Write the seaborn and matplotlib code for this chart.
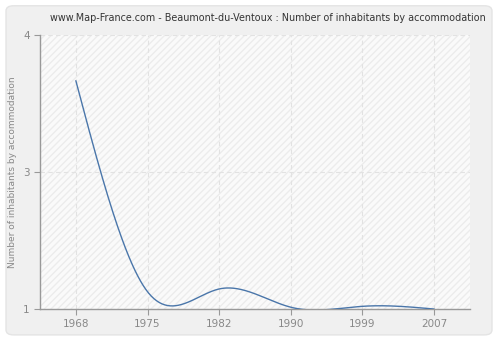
import numpy as np
import pandas as pd
import matplotlib
matplotlib.use("Agg")
import matplotlib.pyplot as plt
import seaborn as sns
from matplotlib.patches import FancyBboxPatch, Rectangle

years = ["1968", "1975", "1982", "1990", "1999", "2007"]
values = [3.5, 1.19, 1.22, 1.02, 1.03, 1.0]
ytick_vals = [1, 2.5, 4]
ytick_labels = ["1", "3", "4"]

sns.set_theme(style="white")
plt.rcParams["font.family"] = ["DejaVu Sans"]

def natural_spline(x, y, xs):
    x = np.asarray(x, float); y = np.asarray(y, float)
    n = len(x)
    h = np.diff(x)
    A = np.zeros((n, n)); b = np.zeros(n)
    A[0, 0] = 1; A[-1, -1] = 1
    for i in range(1, n - 1):
        A[i, i - 1] = h[i - 1]
        A[i, i] = 2 * (h[i - 1] + h[i])
        A[i, i + 1] = h[i]
        b[i] = 3 * ((y[i + 1] - y[i]) / h[i] - (y[i] - y[i - 1]) / h[i - 1])
    c = np.linalg.solve(A, b)
    out = np.empty_like(xs)
    for k, xv in enumerate(xs):
        i = min(max(np.searchsorted(x, xv) - 1, 0), n - 2)
        bb = (y[i + 1] - y[i]) / h[i] - h[i] * (2 * c[i] + c[i + 1]) / 3
        d = (c[i + 1] - c[i]) / (3 * h[i])
        t = xv - x[i]
        out[k] = y[i] + bb * t + c[i] * t ** 2 + d * t ** 3
    return out

idx = np.arange(len(years))
xs = np.linspace(0, len(years) - 1, 400)
ys = natural_spline(idx, values, xs)
df = pd.DataFrame({"x": xs, "y": ys})

fig = plt.figure(figsize=(5, 3.4), dpi=100)
fig.patch.set_facecolor("#ffffff")
fig.patches.append(FancyBboxPatch((0.012, 0.015), 0.972, 0.968, boxstyle="round,pad=0,rounding_size=0.015",
                                  transform=fig.transFigure, facecolor="#f0f0f0", edgecolor="#e4e4e4",
                                  linewidth=1, zorder=-10))
ax = fig.add_axes([0.08, 0.091, 0.86, 0.806])
ax.set_facecolor("#fafafa")
ax.add_patch(Rectangle((0, 0), 1, 1, transform=ax.transAxes, facecolor="none",
                       edgecolor="#ececec", hatch="/////", linewidth=0, zorder=0))

sns.lineplot(data=df, x="x", y="y", ax=ax, color="#4a76aa", linewidth=1, zorder=3)

ax.set_xlim(-0.5, len(years) - 0.5)
ax.set_ylim(1, 4)
ax.set_xticks(idx)
ax.set_xticklabels(years)
ax.set_yticks(ytick_vals)
ax.set_yticklabels(ytick_labels)
ax.set_xlabel("")
ax.set_ylabel("Number of inhabitants by accommodation", color="#888888", fontsize=6.5, labelpad=4)
fig.text(0.535, 0.947, "www.Map-France.com - Beaumont-du-Ventoux : Number of inhabitants by accommodation",
         fontsize=6.9, color="#333333", ha="center", va="center")
for v in idx:
    ax.axvline(v, color="#e2e2e2", linestyle=(0, (4, 3)), linewidth=0.8, zorder=1)
for v in ytick_vals:
    ax.axhline(v, color="#e2e2e2", linestyle=(0, (4, 3)), linewidth=0.8, zorder=1)
for s in ["top", "right"]:
    ax.spines[s].set_visible(False)
for s in ["left", "bottom"]:
    ax.spines[s].set_color("#999999")
    ax.spines[s].set_linewidth(1)
ax.tick_params(axis="both", colors="#999999", labelcolor="#888888", labelsize=7.5,
               length=4, width=0.8, direction="out", left=True, bottom=True)
fig.savefig("out.png", dpi=100, facecolor=fig.get_facecolor())
